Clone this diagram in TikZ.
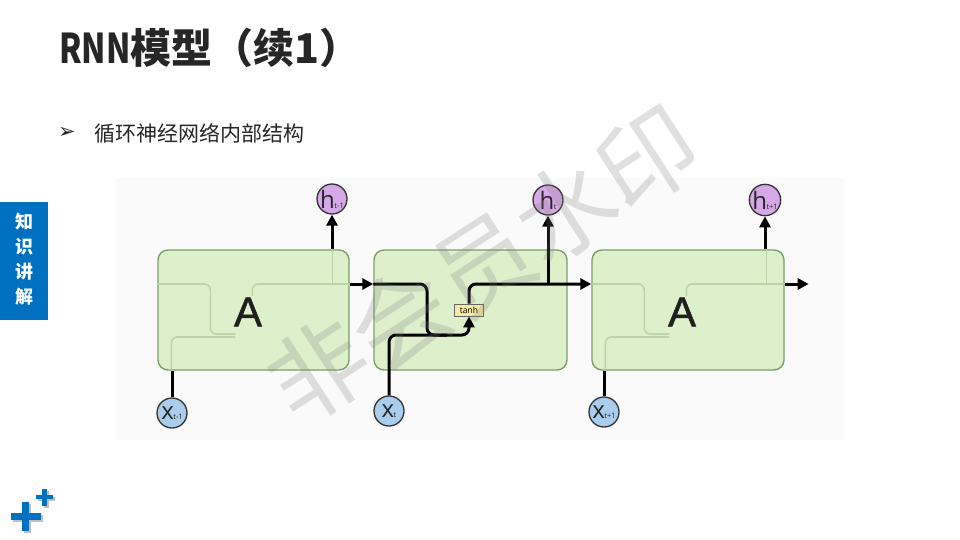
\documentclass[tikz,border=0pt]{standalone}
\usepackage{fontspec}
\usepackage{graphicx}
\usetikzlibrary{arrows.meta,calc}
\newfontfamily\cjk{Noto Sans CJK SC}
\newfontfamily\dejavu{DejaVu Sans}
\newfontfamily\opensans{Open Sans}
\newfontfamily\liber[FakeBold=1.2]{Liberation Sans}
\definecolor{titlegray}{HTML}{262626}
\definecolor{tabblue}{HTML}{0070C0}
\definecolor{cellfill}{HTML}{DDEFCB}
\definecolor{celldraw}{HTML}{7C9E6A}
\definecolor{ghostline}{HTML}{BCD5A8}
\definecolor{hfill}{HTML}{D6A8E8}
\definecolor{xfill}{HTML}{A9CDEA}
\definecolor{tanhfill}{HTML}{F6E9A0}
\definecolor{panel}{HTML}{FAFAFA}
\tikzset{
  cell/.style={draw=celldraw, line width=1.4pt, fill=cellfill, rounded corners=10pt,
    minimum width=191pt, minimum height=120pt, inner sep=0pt},
  alabel/.style={font=\liber\fontsize{42}{42}\selectfont, text=black!88, inner sep=0pt},
  hnode/.style={circle, draw=black!80, line width=1.3pt, fill=hfill, minimum size=30pt, inner sep=0pt,
    font=\opensans, text=black!85},
  xnode/.style={circle, draw=black!80, line width=1.3pt, fill=xfill, minimum size=30pt, inner sep=0pt,
    font=\opensans, text=black!85},
  ln/.style={line width=3pt, black},
  arr/.style={line width=3pt, black, -{Triangle[length=11pt,width=11pt]}},
  ghost/.style={line width=1.6pt, ghostline, rounded corners=6pt},
  tanhbox/.style={draw=black!60, line width=0.8pt, fill=tanhfill, minimum width=29pt, minimum height=12pt,
    inner sep=0pt, font=\opensans\fontsize{8.5}{8.5}\selectfont},
}
\newcommand{\hlab}[2]{{\fontsize{24}{24}\selectfont #1}\kern-0.5pt{\fontsize{7.5}{7.5}\selectfont #2}}
\begin{document}
\begin{tikzpicture}[x=1pt,y=-1pt]
\useasboundingbox (0,0) rectangle (960,540);
\fill[white] (0,0) rectangle (960,540);
% title
\node[anchor=west, inner sep=0pt, text=titlegray] (title) at (59,48)
  {\cjk\bfseries\fontsize{41}{41}\selectfont\scalebox{0.78}[1]{RNN}模型（续1）};
% bullet
\node[inner sep=0pt, text=titlegray] (bul) at (67,133) {\dejavu\bfseries\fontsize{21}{21}\selectfont ➢};
\node[anchor=west, inner sep=0pt, text=titlegray] (sub) at (94,133)
  {\cjk\fontsize{21}{21}\selectfont 循环神经网络内部结构};
% side tab
\fill[tabblue] (0,202) rectangle (48,320);
\foreach \c/\yy in {知/222, 识/247, 讲/272, 解/297}
  \node[text=white, inner sep=0pt] (tab\yy) at (24,\yy) {\cjk\bfseries\fontsize{18}{18}\selectfont \c};
% plus signs
\fill[black!25] (13,514.5) rectangle (43,521.5);
\fill[black!25] (24,503.5) rectangle (31,532.5);
\fill[black!25] (38,496.5) rectangle (54.5,501);
\fill[black!25] (43.5,490.5) rectangle (48.5,507.5);
\fill[tabblue] (11,512.5) rectangle (41,519.5);
\fill[tabblue] (22,501.5) rectangle (29,530.5);
\fill[tabblue] (36,494.5) rectangle (52.5,499);
\fill[tabblue] (41.5,488.5) rectangle (46.5,505.5);
% panel
\fill[panel] (115,178) rectangle (845,440);
% cells
\node[cell] (b1) at (253.5,310) {};
\node[cell, minimum width=193pt] (b2) at (470.5,310) {};
\node[cell, minimum width=192pt] (b3) at (688,310) {};
% ghost structure
\foreach \b in {b1,b3}{
  \draw[ghost] ($(\b.west)+(0,-26)$) -| ($(\b.west)+(53,24)$) -- ($(\b.west)+(78,24)$);
  \draw[ghost] ($(\b.west)+(14,60)$) |- ($(\b.west)+(78,27)$);
  \draw[ghost] ($(\b.west)+(95,-14)$) |- ($(\b.east)+(0,-26)$);
  \draw[ghost] ($(\b.west)+(175,-26)$) -- ($(\b.west)+(175,-60)$);
}
\node[alabel] (a1) at (248,312) {A};
\node[alabel] (a3) at (682,312) {A};
% circles
\node[hnode] (h1) at (332,199) {\hlab{h}{t-1}};
\node[hnode] (h2) at (548,200) {\hlab{h}{t}};
\node[hnode] (h3) at (765,200) {\hlab{h}{t+1}};
\node[xnode] (x1) at (172,413) {\hlab{x}{t-1}};
\node[xnode] (x2) at (389,411) {\hlab{x}{t}};
\node[xnode] (x3) at (604,412) {\hlab{x}{t+1}};
% tanh
\node[tanhbox] (tanh) at (469,310) {tanh};
% connectors
\draw[ln] (x1.north) -- (x1 |- b1.south);
\draw[ln] (x3.north) -- (x3 |- b3.south);
\draw[arr] (h1 |- b1.north) -- (h1.south);
\draw[arr] (h3 |- b3.north) -- (h3.south);
\draw[arr] ($(b1.east)+(0,-26)$) -- ($(b2.west)+(0,-26)$);
\draw[arr] ($(b3.east)+(0,-26)$) -- ++(24,0) coordinate (outend);
\draw[ln, rounded corners=7pt] ($(b2.west)+(0,-26)$) -| (427,335) -- (447,335);
\draw[arr, rounded corners=7pt] (x2.north) |- (tanh.south |- 0,335) -- (tanh.south);
\draw[arr, rounded corners=7pt] (tanh.north) |- ($(b3.west)+(0,-26)$);
\draw[arr] (h2 |- 0,284) -- (h2.south);
% watermark
\node[rotate=33, text=gray, text opacity=0.24, inner sep=0pt] (wm) at (483,264)
  {\cjk\fontsize{98}{98}\selectfont 非会员水印};
\end{tikzpicture}
\end{document}
